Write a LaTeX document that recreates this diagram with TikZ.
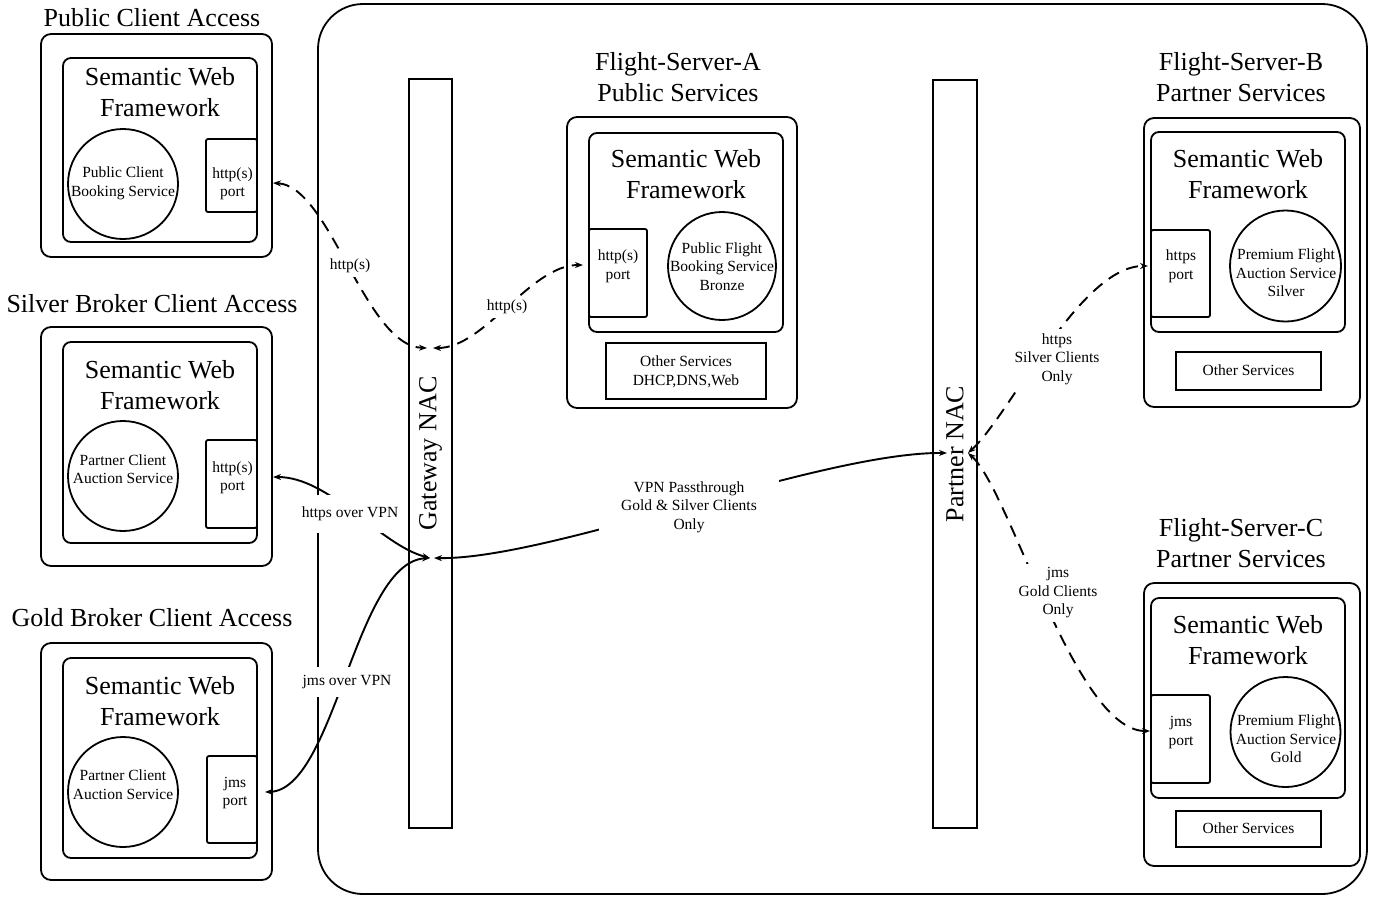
\documentclass[tikz,border=0pt]{standalone}
\usepackage{fontspec}
\setmainfont{Liberation Serif}
\usetikzlibrary{arrows.meta}
\begin{document}
\begin{tikzpicture}[x=1pt,y=-1pt,
  frame/.style={draw, line width=1.8pt, rounded corners=10pt, inner sep=0pt, outer sep=0pt},
  swf/.style={frame, rounded corners=8pt},
  portbox/.style={draw, line width=1.8pt, rounded corners=2pt, inner sep=0pt, outer sep=0pt},
  svc/.style={draw, circle, line width=1.8pt, inner sep=0pt, outer sep=0pt},
  otherbox/.style={draw, line width=1.8pt, inner sep=0pt, outer sep=0pt},
  nacbar/.style={draw, line width=1.8pt, inner sep=0pt, outer sep=0pt},
  bigtxt/.style={font=\fontsize{26}{31}\selectfont, align=center, inner sep=0pt},
  smalltxt/.style={font=\fontsize{15.5}{18.5}\selectfont, align=center, inner sep=0pt},
  lbl/.style={smalltxt, fill=white, inner sep=4pt},
  link/.style={line width=1.9pt, {Stealth[length=8pt,width=6pt]}-{Stealth[length=8pt,width=6pt]}},
  dlink/.style={link, dash pattern=on 12pt off 8pt}
]
\useasboundingbox (0,0) rectangle (1375,898);

% ---------- network enclosure and access controllers ----------
\node[frame, rounded corners=45pt, minimum width=1049pt, minimum height=890pt] (net) at (842.5,449) {};
\node[nacbar, minimum width=43pt, minimum height=749pt] (gw) at (430.5,453.5) {};
\node[bigtxt, rotate=90] (gwt) at (gw.center) {Gateway NAC};
\node[nacbar, minimum width=44pt, minimum height=748pt] (pn) at (955,454) {};
\node[bigtxt, rotate=90] (pnt) at (pn.center) {Partner NAC};

% ---------- public client ----------
\node[bigtxt] (pubT) at (152,18) {Public Client Access};
\node[frame, minimum width=231pt, minimum height=223pt] (pubO) at (156.5,145.5) {};
\node[swf, minimum width=194pt, minimum height=184pt] (pubF) at (160,150) {};
\node[bigtxt] (pubFT) at (160,92) {Semantic Web\\Framework};
\node[svc, minimum size=110pt] (pubS) at (123,184) {};
\node[smalltxt] (pubST) at (123,183.5) {Public Client\\Booking Service};
\node[portbox, minimum width=51pt, minimum height=73pt] (pubP) at (231.5,175.5) {};
\node[smalltxt] (pubPT) at (232.5,184) {http(s)\\port};

% ---------- silver broker client ----------
\node[bigtxt] (silT) at (152,304) {Silver Broker Client Access};
\node[frame, minimum width=231pt, minimum height=239pt] (silO) at (156.5,446.5) {};
\node[swf, minimum width=194pt, minimum height=201pt] (silF) at (160,442.5) {};
\node[bigtxt] (silFT) at (160,385) {Semantic Web\\Framework};
\node[svc, minimum size=110pt] (silS) at (123,476) {};
\node[smalltxt] (silST) at (123,469) {Partner Client\\Auction Service};
\node[portbox, minimum width=51pt, minimum height=88pt] (silP) at (231.5,484) {};
\node[smalltxt] (silPT) at (232.5,478) {http(s)\\port};

% ---------- gold broker client ----------
\node[bigtxt] (golT) at (152,618) {Gold Broker Client Access};
\node[frame, minimum width=231pt, minimum height=237pt] (golO) at (156.5,761.5) {};
\node[swf, minimum width=194pt, minimum height=200pt] (golF) at (160,758) {};
\node[bigtxt] (golFT) at (160,701) {Semantic Web\\Framework};
\node[svc, minimum size=110pt] (golS) at (123,792) {};
\node[smalltxt] (golST) at (123,784.5) {Partner Client\\Auction Service};
\node[portbox, minimum width=50pt, minimum height=87pt] (golP) at (232,799.5) {};
\node[smalltxt] (golPT) at (235,793) {jms\\port};

% ---------- flight server A ----------
\node[bigtxt] (aT) at (678,77.5) {Flight-Server-A\\Public Services};
\node[frame, minimum width=230pt, minimum height=291pt] (aO) at (682,262.5) {};
\node[swf, minimum width=194pt, minimum height=199pt] (aF) at (686,232.5) {};
\node[bigtxt] (aFT) at (686,174) {Semantic Web\\Framework};
\node[portbox, minimum width=58pt, minimum height=88pt] (aP) at (618,273) {};
\node[smalltxt] (aPT) at (618,266.5) {http(s)\\port};
\node[svc, minimum size=108pt] (aS) at (722,266) {};
\node[smalltxt] (aST) at (722,266.5) {Public Flight\\Booking Service\\Bronze};
\node[otherbox, minimum width=160pt, minimum height=56pt] (aX) at (686,371) {};
\node[smalltxt] (aXT) at (686,372) {Other Services\\DHCP,DNS,Web};

% ---------- flight server B ----------
\node[bigtxt] (bT) at (1241,77.5) {Flight-Server-B\\Partner Services};
\node[frame, minimum width=216pt, minimum height=289pt] (bO) at (1252,262.5) {};
\node[swf, minimum width=194pt, minimum height=200pt] (bF) at (1248,232) {};
\node[bigtxt] (bFT) at (1248,174) {Semantic Web\\Framework};
\node[portbox, minimum width=59pt, minimum height=87pt] (bP) at (1180.5,273.5) {};
\node[smalltxt] (bPT) at (1181,266.5) {https\\port};
\node[svc, minimum size=111pt] (bS) at (1285.5,266) {};
\node[smalltxt] (bST) at (1286,273) {Premium Flight\\Auction Service\\Silver};
\node[otherbox, minimum width=145pt, minimum height=38pt] (bX) at (1248.5,371) {};
\node[smalltxt] (bXT) at (1248.5,370.5) {Other Services};

% ---------- flight server C ----------
\node[bigtxt] (cT) at (1241,543) {Flight-Server-C\\Partner Services};
\node[frame, minimum width=216pt, minimum height=283pt] (cO) at (1252,724.5) {};
\node[swf, minimum width=194pt, minimum height=200pt] (cF) at (1248,698) {};
\node[bigtxt] (cFT) at (1248,640) {Semantic Web\\Framework};
\node[portbox, minimum width=59pt, minimum height=88pt] (cP) at (1180.5,739) {};
\node[smalltxt] (cPT) at (1181,732.5) {jms\\port};
\node[svc, minimum size=110pt] (cS) at (1285.5,732) {};
\node[smalltxt] (cST) at (1286,739) {Premium Flight\\Auction Service\\Gold};
\node[otherbox, minimum width=145pt, minimum height=36pt] (cX) at (1248.5,829) {};
\node[smalltxt] (cXT) at (1248.5,828.5) {Other Services};

% ---------- connections ----------
\draw[dlink] ([shift={(16,7.5)}]pubP.east) .. controls (330,186) and (365,346) .. ([shift={(-3.5,-105.5)}]gw.center);
\draw[dlink] ([shift={(2.5,-105.5)}]gw.center) .. controls (485,348) and (530,265) .. ([shift={(-6,-8)}]aP.west);
\draw[link] ([shift={(16,-7)}]silP.east) .. controls (330,477) and (380,545) .. ([shift={(-0.5,104.5)}]gw.center);
\draw[link] ([shift={(8,-7.5)}]golP.east) .. controls (335,790) and (355,562) .. ([shift={(-0.5,104.5)}]gw.center);
\draw[link] ([shift={(3.5,104.5)}]gw.center) .. controls (550,560) and (820,452) .. ([shift={(-8,-1)}]pn.center);
\draw[dlink] ([shift={(13,-1)}]pn.center) .. controls (1010,415) and (1080,266) .. ([shift={(-3,-7.5)}]bP.west);
\draw[dlink] ([shift={(13,-1)}]pn.center) .. controls (1010,490) and (1075,731) .. ([shift={(-1,-8)}]cP.west);

% ---------- connection labels ----------
\node[lbl] (l1) at (350,266) {http(s)};
\node[lbl] (l2) at (507,307) {http(s)};
\node[lbl, inner ysep=12pt] (l3) at (350,514) {https over VPN};
\node[lbl, inner ysep=8pt] (l4) at (347,682) {jms over VPN};
\node[lbl, inner xsep=22pt, inner ysep=6pt] (l5) at (689,507) {VPN Passthrough\\Gold \& Silver Clients\\Only};
\node[lbl] (l6) at (1057,359) {https\\Silver Clients\\Only};
\node[lbl] (l7) at (1058,593) {jms\\Gold Clients\\Only};
\end{tikzpicture}
\end{document}
